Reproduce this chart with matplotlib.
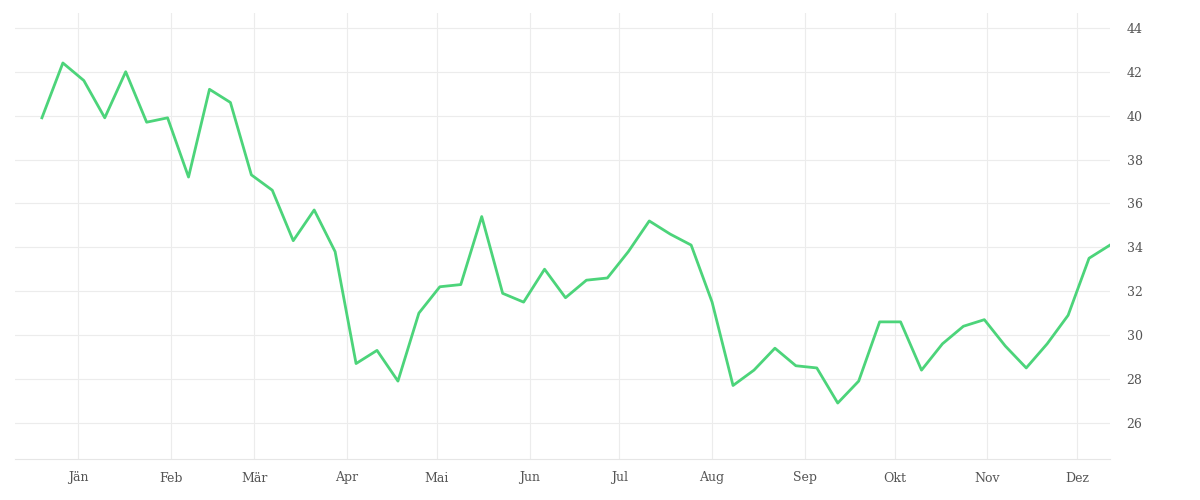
import matplotlib
matplotlib.use("Agg")
import matplotlib.pyplot as plt
import pandas as pd

start = "2020-12-20"
values = [39.9, 42.4, 41.6, 39.9, 42.0, 39.7, 39.9, 37.2, 41.2, 40.6,
          37.3, 36.6, 34.3, 35.7, 33.8, 28.7, 29.3, 27.9, 31.0, 32.2,
          32.3, 35.4, 31.9, 31.5, 33.0, 31.7, 32.5, 32.6, 33.8, 35.2,
          34.6, 34.1, 31.5, 27.7, 28.4, 29.4, 28.6, 28.5, 26.9, 27.9,
          30.6, 30.6, 28.4, 29.6, 30.4, 30.7, 29.5, 28.5, 29.6, 30.9,
          33.5, 34.1]
dates = pd.date_range(start, periods=len(values), freq="7D")
month_labels = ["Jän", "Feb", "Mär", "Apr", "Mai", "Jun", "Jul", "Aug", "Sep", "Okt", "Nov", "Dez"]
month_ticks = pd.date_range("2021-01-01", periods=12, freq="MS")
yticks = list(range(26, 45, 2))

fig = plt.figure(figsize=(12, 5), dpi=100)
ax = fig.add_axes([0.0125, 0.082, 0.9125, 0.893])
ax.plot(dates, values, color="#4cd47a", lw=2.0)
ax.set_xlim(pd.Timestamp("2020-12-11"), dates[-1])
ax.set_ylim(24.35, 44.7)
ax.set_xticks(month_ticks)
ax.set_xticklabels(month_labels)
ax.set_yticks(yticks)
ax.yaxis.tick_right()
ax.grid(True, color="#ececec", lw=0.8)
for s in ["top", "left", "right"]:
    ax.spines[s].set_visible(False)
ax.spines["bottom"].set_color("#e6e6e6")
ax.tick_params(length=0, labelsize=9, colors="#555555")
ax.tick_params(axis="y", pad=12)
ax.tick_params(axis="x", pad=9)
for t in ax.get_xticklabels() + ax.get_yticklabels():
    t.set_family("DejaVu Serif")
fig.savefig("out.png")
